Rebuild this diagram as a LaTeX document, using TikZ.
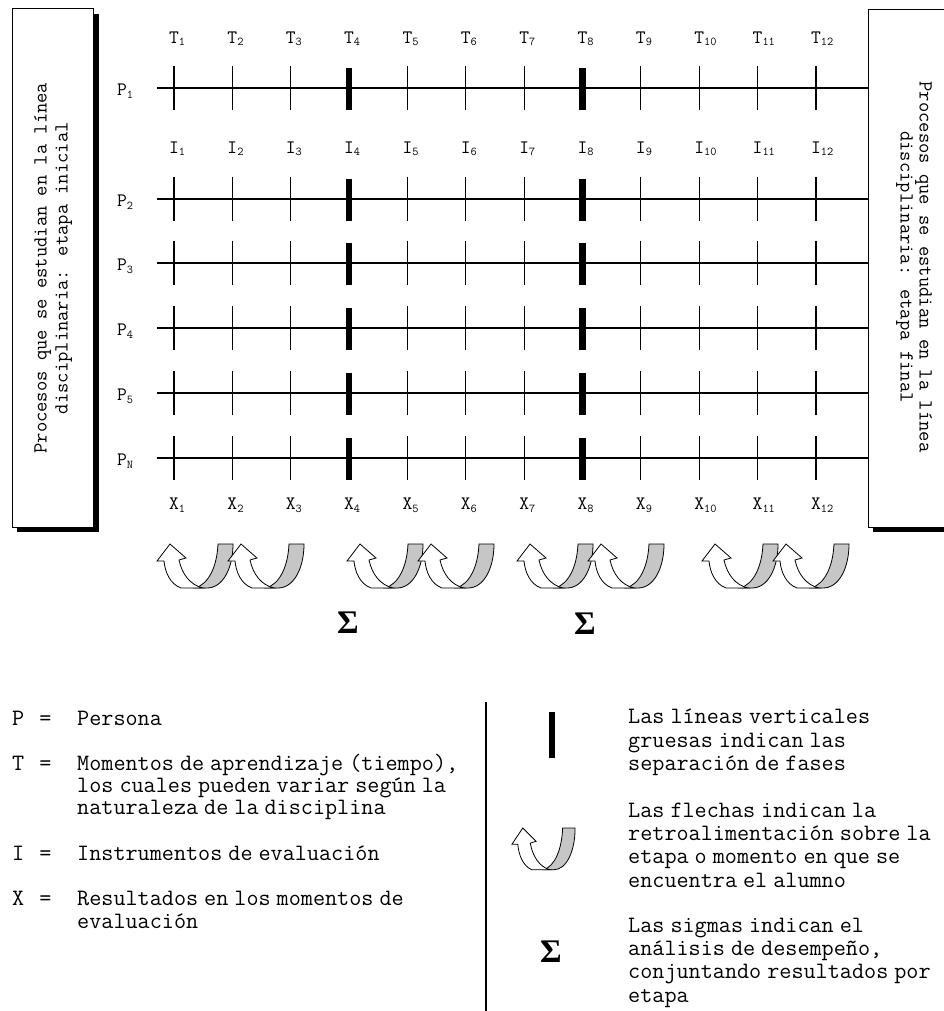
\documentclass[tikz,border=0pt]{standalone}
\usepackage{fontspec}
\newfontfamily\serifb{Liberation Serif}
\newcommand\sbs[1]{\rlap{\smash{\raisebox{-2.5pt}{\fontsize{12}{12}\selectfont #1}}}}
\newcommand\legfont{\ttfamily\fontsize{23.5}{23}\selectfont\spaceskip 6pt\relax}
\begin{document}
\begin{tikzpicture}[x=1pt,y=-1pt,
  lab/.style={inner sep=0pt, font=\ttfamily\fontsize{19}{19}\selectfont},
  axis/.style={line width=1.3pt},
  tk/.style={line width=1.2pt},
  tkb/.style={line width=6.5pt},
  leg/.style={inner sep=0pt, anchor=base west, font=\legfont},
  boxt/.style={inner sep=0pt, align=center},
  sig/.style={inner sep=0pt, font=\serifb\bfseries\fontsize{33}{33}\selectfont},
  framebox/.style={draw, fill=white, line width=1.2pt, inner sep=0pt, anchor=north west},
  fb/.pic={
    \filldraw[fill=gray!45, line width=0.8pt] (61,0) -- (76,0) .. controls (76,24) and (66,44) .. (50,44) -- (38,44) .. controls (52,40) and (60,22) .. cycle;
    \filldraw[fill=white, line width=0.8pt] (24,44) .. controls (13,40) and (8,28) .. (7,17) -- (0,17) -- (13,0) -- (29,14) -- (22,16) .. controls (25,30) and (33,41) .. (46,44) -- cycle;
  }
]
\useasboundingbox (0,0) rectangle (944,1011);
% side boxes
\fill (17,14) rectangle (99,532);
\node[framebox, minimum width=81pt, minimum height=519pt] (lbox) at (12,8) {};
\fill (873,14) rectangle (960,532);
\node[framebox, minimum width=92pt, minimum height=518pt] (rbox) at (868,9) {};
\node[boxt, rotate=90, font=\ttfamily\fontsize{20}{21}\selectfont] (ltxt) at (lbox.center) {Procesos que se estudian en la línea\\disciplinaria: etapa inicial};
\node[boxt, rotate=-90, font=\ttfamily\fontsize{20}{19}\selectfont] (rtxt) at (914,267) {Procesos que se estudian en la línea\\disciplinaria: etapa final};
% column labels
\foreach \i in {1,...,12} {
  \pgfmathsetmacro\xx{174+(\i-1)*58.36}
  \node[lab] (t\i) at (\xx,37.5) {T\sbs{\i}};
  \node[lab] (i\i) at (\xx,147.5) {I\sbs{\i}};
  \node[lab] (x\i) at (\xx,504) {X\sbs{\i}};
}
% rows
\foreach \y/\k/\s in {88/1/1, 199/2/2, 263/3/3, 328/4/4, 393/5/5, 458/6/N} {
  \node[lab] (p\k) at (122,\y+2) {P\sbs{\s}};
  \coordinate (rs\k) at (157,\y);
  \draw[axis] (rs\k) -- (rbox.west |- rs\k);
  \foreach \i in {1,2,3,5,6,7,9,10,11,12} {
    \pgfmathsetmacro\xx{174+(\i-1)*58.36}
    \draw[tk] (\xx,\y-22) -- (\xx,\y+22);
  }
  \foreach \i in {4,8} {
    \pgfmathsetmacro\xx{174+(\i-1)*58.36}
    \draw[tkb] (\xx,\y-20) -- (\xx,\y+22);
  }
}
% feedback arrows
\foreach \ax in {157,347,517,702} {
  \pic at (\ax,544) {fb};
  \pic at (\ax+71,544) {fb};
}
% sigmas
\node[sig] (s1) at (348,623) {Σ};
\node[sig] (s2) at (585,624) {Σ};
% legend left
\node[leg] (lp) at (12,725) {P\kern15pt=};
\node[leg] (lpa) at (77,725) {Persona};
\node[leg] (lt) at (12,770) {T\kern15pt=};
\node[leg] (lta) at (77,770) {Momentos de aprendizaje (tiempo),};
\node[leg] (ltb) at (77,792) {los cuales pueden variar según la};
\node[leg] (ltc) at (77,814) {naturaleza de la disciplina};
\node[leg] (li) at (12,860) {I\kern15pt=};
\node[leg] (lia) at (77,860) {Instrumentos de evaluación};
\node[leg] (lx) at (12,905) {X\kern15pt=};
\node[leg] (lxa) at (77,905) {Resultados en los momentos de};
\node[leg] (lxb) at (77,928) {evaluación};
% separator
\coordinate (sepa) at (486,702);
\coordinate (sepb) at (486,1011);
\draw[line width=1.2pt] (sepa) -- (sepb);
% legend right
\draw[tkb] (552,712) -- (552,758);
\pic[xscale=0.83, yscale=0.95] at (512,828) {fb};
\node[sig] (s3) at (551,952) {Σ};
\node[leg] (ra1) at (628,723) {Las líneas verticales};
\node[leg] (ra2) at (628,747) {gruesas indican las};
\node[leg] (ra3) at (628,770) {separación de fases};
\node[leg] (rb1) at (628,817) {Las flechas indican la};
\node[leg] (rb2) at (628,840) {retroalimentación sobre la};
\node[leg] (rb3) at (628,863) {etapa o momento en que se};
\node[leg] (rb4) at (628,887) {encuentra el alumno};
\node[leg] (rc1) at (628,932) {Las sigmas indican el};
\node[leg] (rc2) at (628,955) {análisis de desempeño,};
\node[leg] (rc3) at (628,978) {conjuntando resultados por};
\node[leg] (rc4) at (628,1002) {etapa};
\end{tikzpicture}
\end{document}
